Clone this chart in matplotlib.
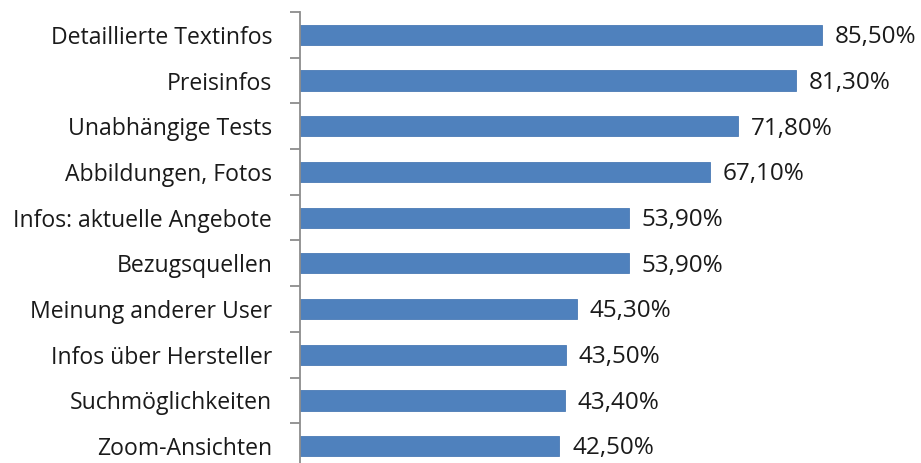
import numpy as np
import matplotlib.pyplot as plt

categories = [
    "Detaillierte Textinfos",
    "Preisinfos",
    "Unabhängige Tests",
    "Abbildungen, Fotos",
    "Infos: aktuelle Angebote",
    "Bezugsquellen",
    "Meinung anderer User",
    "Infos über Hersteller",
    "Suchmöglichkeiten",
    "Zoom-Ansichten",
]
values = [85.5, 81.3, 71.8, 67.1, 53.9, 53.9, 45.3, 43.5, 43.4, 42.5]

plt.rcParams['font.family'] = ['Open Sans', 'DejaVu Sans']

fig = plt.figure(figsize=(9.21, 4.63), dpi=100)
# axes runs off the bottom edge like the source image
ax = fig.add_axes([300 / 921, -6 / 463, 610.5 / 921, 457 / 463])

y = np.arange(len(categories))
ax.barh(y, values, height=0.44, color='#4f81bd', edgecolor='#4a7ab5', linewidth=0.6)

for yi, v in zip(y, values):
    ax.text(v + 2.1, yi + 0.05, "{:.2f}%".format(v).replace(".", ","), va='center', ha='left',
            fontsize=17.5, color='#1a1a1a')

ax.set_xlim(0, 100)
ax.set_ylim(len(categories) - 0.5, -0.5)
ax.set_yticks(y)
ax.set_yticklabels(categories, fontsize=16.6, color='#1a1a1a')
ax.set_yticks(np.arange(-0.5, len(categories), 1), minor=True)
ax.tick_params(axis='y', which='major', length=0, pad=20)
ax.tick_params(axis='y', which='minor', length=7, width=1.3, color='#8c8c8c')
ax.set_xticks([])

for s in ['top', 'right', 'bottom']:
    ax.spines[s].set_visible(False)
ax.spines['left'].set_color('#8c8c8c')
ax.spines['left'].set_linewidth(1.3)

fig.savefig('out.png', dpi=100)
